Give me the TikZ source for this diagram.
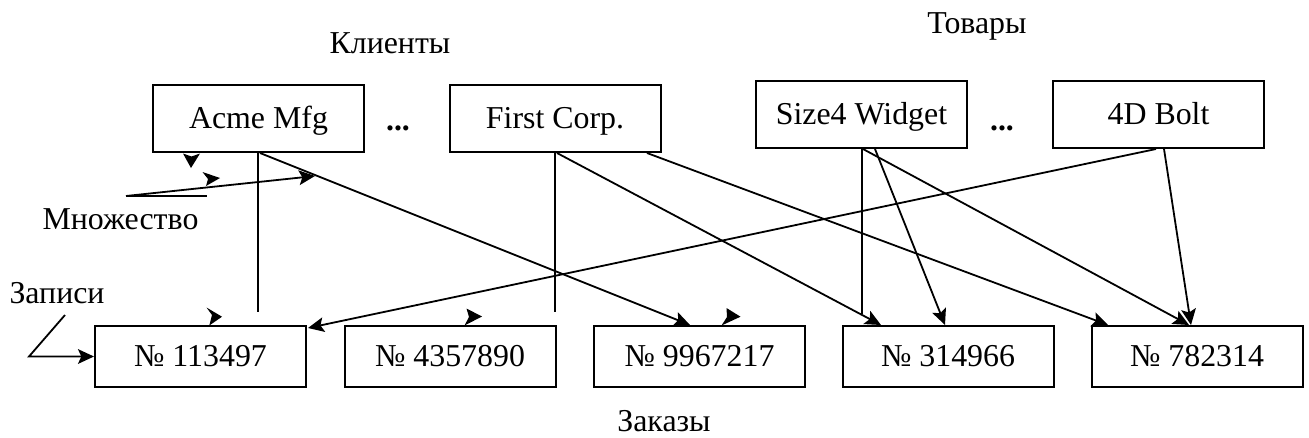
\documentclass[tikz,border=0pt]{standalone}
\usepackage{fontspec}
\setmainfont{Liberation Serif}
\usetikzlibrary{arrows.meta,calc}

\begin{document}
\begin{tikzpicture}[x=0.75pt,y=-0.75pt,
  every node/.style={font=\fontsize{23.9pt}{28pt}\selectfont},
  box/.style={draw, line width=1.5pt, minimum width=158.25pt, inner sep=0pt,
              text height=15.6pt, text depth=0pt},
  topbox/.style={box, minimum height=50.25pt},
  botbox/.style={box, minimum height=45.75pt},
  caption/.style={anchor=base, inner sep=0pt},
  dotsep/.style={anchor=base, inner sep=0pt,
                 font={\fontsize{23.9pt}{28pt}\selectfont\bfseries}},
  link/.style={line width=1.35pt},
  arr/.style={link, -{Stealth[length=12pt,width=11pt,inset=2.5pt]}},
  tip/.style={fill=black}
]
\useasboundingbox (0,0) rectangle (1309,437);

% set captions
\node[caption] (clients) at (390,53)  {Клиенты};
\node[caption] (goods)   at (977,33)  {Товары};
\node[caption] (orders)  at (664,431) {Заказы};
\node[caption] (mset)    at (120.5,229) {Множество};
\node[caption] (recs)    at (57,303)  {Записи};

% owner records
\node[topbox] (acme)  at (258.5,118.5) {Acme Mfg};
\node[dotsep] (dots1) at (398,130) {...};
\node[topbox] (first) at (555,118.5) {First Corp.};
\node[topbox] (size4) at (861.5,114.5) {Size4 Widget};
\node[dotsep] (dots2) at (1002,130) {...};
\node[topbox] (bolt)  at (1158.5,114.5) {4D Bolt};

% member records
\node[botbox] (o1) at (200.5,356.5) {№ 113497};
\node[botbox] (o2) at (450,356.5)   {№ 4357890};
\node[botbox] (o3) at (699.5,356.5) {№ 9967217};
\node[botbox] (o4) at (948,356.5)   {№ 314966};
\node[botbox] (o5) at (1197,356.5)  {№ 782314};

% ends of the plain drop lines
\coordinate (astop) at ($(o1.north)+(0,-13)$);
\coordinate (sstop) at ($(o4.north)+(0,-11)$);
\coordinate (adrop) at ($(acme.south)+(-0.5,0)$);
\coordinate (sdrop) at ($(size4.south)+(0.5,0)$);

% links from customers
\draw[link] (adrop) -- (adrop |- astop);
\draw[arr] ($(acme.south)+(1.5,0)$) -- ($(o3.north)+(-9.5,0)$);
\draw[link] (first.south) -- (first.south |- astop);
\draw[arr] ($(first.south)+(2,0)$) -- ($(o4.north)+(-67,0)$);
\draw[arr] ($(first.south)+(92,0)$) -- ($(o5.north)+(-89,0)$);

% links from goods
\draw[link] (sdrop) -- (sdrop |- sstop);
\draw[arr] ($(size4.south)+(13.5,0)$) -- ($(o4.north)+(-3,0)$);
\draw[arr] ($(size4.south)+(1.5,0)$) -- ($(o5.north)+(-8,0)$);
\draw[arr] ($(bolt.south)+(-2.5,0)$) -- ($(o1.north east)+(1,3)$);
\draw[arr] ($(bolt.south)+(5.5,0)$) -- ($(o5.north)+(-6,0)$);

% pointer to the set
\coordinate (mp) at ($(mset.base)+(5.5,-33)$);
\coordinate (mtip) at (315,176);
\draw[link] (mp) -- ++(81,0);
\draw[arr] (mp) -- (mtip);

% pointer to the records
\coordinate (rp) at ($(recs.base)+(8,12)$);
\coordinate (rc) at (29,356.5);
\draw[arr] (rp) -- (rc) -- (o1.west);

% loose arrow tips
\fill[tip] (183,153.5) -- (191.5,156.5) -- (200,153.5) -- (191,168) -- cycle;
\fill[tip] (202.5,172) -- (220,178) -- (206,186) -- (208,179) -- cycle;
\fill[tip] (206.5,307.5) -- (222,316.7) -- (209.3,325.5) -- (212,315) -- cycle;
\fill[tip] (466.5,308.5) -- (482,316.5) -- (464.5,325.5) -- (469,317) -- cycle;
\fill[tip] (726.5,308) -- (740.5,316.7) -- (721.5,325.5) -- (727,317) -- cycle;
\end{tikzpicture}
\end{document}
